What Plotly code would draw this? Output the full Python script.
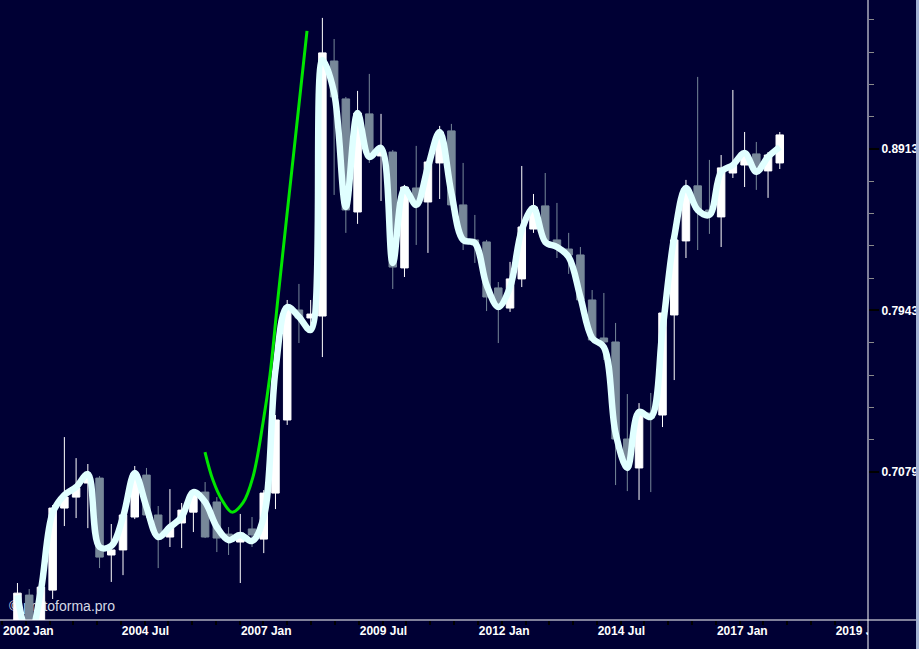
import plotly.graph_objects as go
import pandas as pd

BG = "#000034"

# quarterly-ish candles (90-day bars)
candle_dates = pd.date_range("2002-04-30", periods=66, freq="90D")

open_vals = [0.6325, 0.6485, 0.6280, 0.6508, 0.6900, 0.6954, 0.7024, 0.7049, 0.6673, 0.6697,
             0.6856, 0.7064, 0.6866, 0.6759, 0.6827, 0.6880, 0.6979, 0.6930, 0.6773, 0.6735,
             0.6798, 0.6749, 0.6974, 0.7347, 0.7946, 0.7901, 0.7912, 0.9489, 0.9236, 0.8521,
             0.9138, 0.8868, 0.8893, 0.8188, 0.8668, 0.8582, 0.8824, 0.9028, 0.8564, 0.8353,
             0.8341, 0.8072, 0.7957, 0.8124, 0.8418, 0.8558, 0.8353, 0.8299, 0.8264, 0.8003,
             0.7789, 0.7767, 0.7248, 0.7100, 0.7384, 0.7373, 0.7918, 0.8347, 0.8681, 0.8533,
             0.8491, 0.8761, 0.8811, 0.8881, 0.8774, 0.8824]
high_vals = [0.6541, 0.6513, 0.6532, 0.6915, 0.7258, 0.7150, 0.7120, 0.7059, 0.6822, 0.6890,
             0.7110, 0.7100, 0.6910, 0.6994, 0.6925, 0.6989, 0.7029, 0.6954, 0.6807, 0.6871,
             0.6856, 0.6989, 0.7373, 0.8003, 0.8095, 0.8003, 0.9785, 0.9639, 0.9249, 0.9289,
             0.9402, 0.9138, 0.8906, 0.8687, 0.8932, 0.8855, 0.9060, 0.9073, 0.8824, 0.8503,
             0.8353, 0.8106, 0.8223, 0.8805, 0.8631, 0.8761, 0.8576, 0.8395, 0.8311, 0.8060,
             0.8043, 0.7873, 0.7484, 0.7436, 0.7490, 0.7946, 0.8365, 0.8718, 0.9382, 0.8843,
             0.8874, 0.9295, 0.9021, 0.8957, 0.8893, 0.9021]
low_vals = [0.6280, 0.6258, 0.6258, 0.6467, 0.6812, 0.6851, 0.6802, 0.6611, 0.6546, 0.6578,
            0.6846, 0.6851, 0.6611, 0.6711, 0.6706, 0.6783, 0.6754, 0.6687, 0.6673, 0.6541,
            0.6711, 0.6682, 0.6895, 0.7321, 0.7761, 0.7834, 0.7684, 0.8625, 0.8395, 0.8449,
            0.8824, 0.8588, 0.8066, 0.8135, 0.8323, 0.8276, 0.8600, 0.8533, 0.8293, 0.8217,
            0.7940, 0.7761, 0.7935, 0.8077, 0.8395, 0.8323, 0.8246, 0.8153, 0.7986, 0.7767,
            0.7668, 0.7014, 0.6984, 0.6940, 0.6979, 0.7310, 0.7559, 0.8246, 0.8293, 0.8389,
            0.8311, 0.8730, 0.8674, 0.8656, 0.8607, 0.8786]
close_vals = [0.6494, 0.6280, 0.6522, 0.6900, 0.6954, 0.6999, 0.7054, 0.6663, 0.6697, 0.6866,
              0.7074, 0.6866, 0.6759, 0.6807, 0.6890, 0.6964, 0.6759, 0.6754, 0.6759, 0.6778,
              0.6769, 0.6974, 0.7347, 0.7963, 0.7901, 0.7923, 0.9544, 0.9249, 0.8533, 0.9144,
              0.8862, 0.8893, 0.8193, 0.8674, 0.8594, 0.8830, 0.9021, 0.8564, 0.8353, 0.8323,
              0.8020, 0.7974, 0.8124, 0.8430, 0.8552, 0.8353, 0.8311, 0.8264, 0.8003, 0.7778,
              0.7767, 0.7248, 0.7100, 0.7384, 0.7357, 0.7929, 0.8353, 0.8668, 0.8533, 0.8503,
              0.8793, 0.8811, 0.8874, 0.8793, 0.8874, 0.9002]

smooth_vals = [0.6485, 0.6280, 0.6508, 0.6876, 0.6964, 0.7004, 0.7069, 0.6711, 0.6716, 0.6856,
               0.7074, 0.6905, 0.6759, 0.6807, 0.6856, 0.6979, 0.6930, 0.6807, 0.6744, 0.6769,
               0.6740, 0.6856, 0.7613, 0.7963, 0.7907, 0.7834, 0.9496, 0.9276, 0.8552, 0.9144,
               0.8862, 0.8919, 0.8217, 0.8662, 0.8564, 0.8799, 0.9021, 0.8637, 0.8353, 0.8335,
               0.8089, 0.7963, 0.8077, 0.8412, 0.8545, 0.8341, 0.8311, 0.8252, 0.8020, 0.7789,
               0.7739, 0.7279, 0.7100, 0.7389, 0.7363, 0.7834, 0.8371, 0.8668, 0.8533, 0.8503,
               0.8768, 0.8811, 0.8887, 0.8768, 0.8862, 0.8925]

green_dates = ["2006-04-08", "2006-06-08", "2006-08-16", "2006-11-01", "2007-01-24", "2007-04-11",
               "2007-06-27", "2007-08-20", "2007-10-20", "2007-12-28", "2008-03-14", "2008-05-30"]
green_vals = [0.7181, 0.7039, 0.6940, 0.6880, 0.6925, 0.7054, 0.7331, 0.7586, 0.8014, 0.8503,
              0.9079, 0.9695]

y_major_vals = [0.89125, 0.79433, 0.70795]
y_major_text = ["0.8913", "0.7943", "0.7079"]
y_minor_vals = [0.97724, 0.95499, 0.93325, 0.91201, 0.87096, 0.85114, 0.83176, 0.81283,
                0.77625, 0.75858, 0.74131, 0.72444]

fig = go.Figure()
fig.add_trace(go.Candlestick(
    x=candle_dates, open=open_vals, high=high_vals, low=low_vals, close=close_vals,
    increasing=dict(line=dict(color="#ffffff", width=1), fillcolor="#ffffff"),
    decreasing=dict(line=dict(color="#778899", width=1), fillcolor="#778899"),
    whiskerwidth=0, hoverinfo="skip", showlegend=False))
fig.add_trace(go.Scatter(
    x=candle_dates, y=smooth_vals, mode="lines",
    line=dict(color="#e0ffff", width=6.5, shape="spline", smoothing=1.0),
    hoverinfo="skip", showlegend=False))
fig.add_trace(go.Scatter(
    x=green_dates, y=green_vals, mode="lines",
    line=dict(color="#00e600", width=3, shape="spline", smoothing=1.0),
    hoverinfo="skip", showlegend=False))

W, H = 919, 649
L, R, T, B = 0, 51, 0, 29
pw, ph = W - L - R, H - T - B
xr = 916 / pw
yb = -B / ph

tickfont = dict(family="Liberation Sans", size=12, color="#ffffff", weight="bold")

fig.update_layout(
    width=W, height=H,
    margin=dict(l=L, r=R, t=T, b=B, pad=0),
    paper_bgcolor=BG, plot_bgcolor=BG,
    showlegend=False,
    boxgap=0.36, boxgroupgap=0,
    xaxis=dict(
        type="date", range=["2001-12-17", "2020-03-13"],
        tick0="2002-01-01", dtick="M30", tickformat="%Y %b",
        ticks="outside", ticklen=4, tickwidth=2, tickcolor="#000000",
        ticklabelposition="outside right", tickfont=tickfont,
        showgrid=False, zeroline=False, showline=False,
        rangeslider=dict(visible=False),
        minor=dict(tick0="2002-01-01", dtick="M6", ticks="outside", ticklen=4,
                   tickwidth=2, tickcolor="#000000", showgrid=False),
    ),
    yaxis=dict(
        type="log", side="right", range=[-0.1958, -0.0039],
        tickvals=y_major_vals, ticktext=y_major_text,
        ticks="outside", ticklen=10, tickwidth=2, tickcolor="#000000",
        tickfont=tickfont,
        showgrid=False, zeroline=False, showline=False,
        minor=dict(tickvals=y_minor_vals, ticks="outside", ticklen=5, tickwidth=1,
                   tickcolor="#8a8a8a", showgrid=False),
    ),
    shapes=[
        dict(type="rect", xref="paper", yref="paper", x0=6 / pw, x1=160 / pw,
             y0=(620 - 615) / ph, y1=(620 - 595) / ph, line=dict(width=0),
             fillcolor="rgba(0,0,0,0)", layer="below",
             label=dict(text="© protoforma.pro", textposition="middle left", padding=0,
                        font=dict(family="Liberation Sans", size=14, color="#d4d8e4"))),
        dict(type="rect", xref="paper", yref="paper", x0=1, x1=xr, y0=yb, y1=0,
             line=dict(width=0), fillcolor=BG, layer="above"),
        dict(type="line", xref="paper", yref="paper", x0=0, x1=xr, y0=0, y1=0,
             line=dict(color="#ffffff", width=1), layer="above"),
        dict(type="line", xref="paper", yref="paper", x0=1, x1=1, y0=yb, y1=1,
             line=dict(color="#ffffff", width=1), layer="above"),
        dict(type="rect", xref="paper", yref="paper", x0=xr, x1=W / pw, y0=yb, y1=1,
             line=dict(width=0), fillcolor="#a4b4d4", layer="above"),
    ],
)

fig.write_html(
    "out.html",
    config={"displayModeBar": False},
    post_script="document.body.style.margin='0';document.body.style.overflow='hidden';",
)
